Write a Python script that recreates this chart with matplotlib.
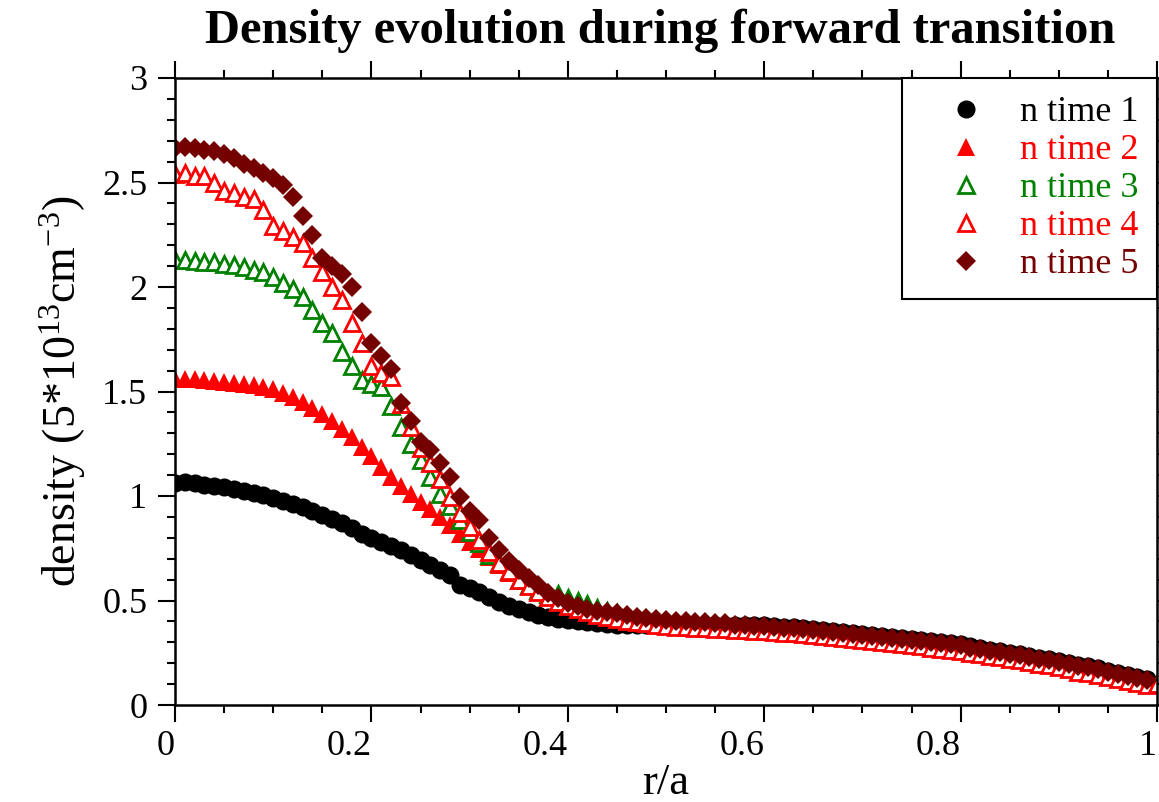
import numpy as np
import matplotlib
matplotlib.use("Agg")
import matplotlib.pyplot as plt
from matplotlib.ticker import MultipleLocator

plt.rcParams['font.family'] = ['Liberation Serif', 'DejaVu Serif']
plt.rcParams['mathtext.fontset'] = 'custom'
plt.rcParams['mathtext.rm'] = 'Liberation Serif'
plt.rcParams['mathtext.default'] = 'regular'

# r/a grid (step 0.01)
r_a = [round(i * 0.01, 2) for i in range(100)]
r_a_long = r_a + [1.0]

x_ticks = [0, 0.2, 0.4, 0.6, 0.8, 1]
x_labels = ['0', '0.2', '0.4', '0.6', '0.8', '1']
y_ticks = [0, 0.5, 1, 1.5, 2, 2.5, 3]
y_labels = ['0', '0.5', '1', '1.5', '2', '2.5', '3']

# n time 1
n_time1 = [
    1.06, 1.065, 1.06, 1.055, 1.05, 1.045, 1.035, 1.025, 1.015, 1.005,
    0.99, 0.975, 0.96, 0.945, 0.93, 0.91, 0.89, 0.87, 0.845, 0.82,
    0.80, 0.78, 0.76, 0.74, 0.72, 0.695, 0.67, 0.645, 0.62, 0.575,
    0.56, 0.54, 0.515, 0.495, 0.475, 0.46, 0.445, 0.43, 0.42, 0.41,
    0.405, 0.40, 0.395, 0.39, 0.388, 0.385, 0.385, 0.385, 0.385, 0.385,
    0.385, 0.385, 0.385, 0.385, 0.385, 0.385, 0.385, 0.385, 0.385, 0.385,
    0.385, 0.38, 0.375, 0.375, 0.37, 0.365, 0.36, 0.355, 0.35, 0.345,
    0.34, 0.335, 0.33, 0.325, 0.32, 0.315, 0.31, 0.305, 0.30, 0.295,
    0.29, 0.28, 0.275, 0.265, 0.26, 0.25, 0.245, 0.235, 0.225, 0.22,
    0.21, 0.20, 0.19, 0.185, 0.175, 0.165, 0.155, 0.145, 0.135, 0.125,
]

# n time 2
n_time2 = [
    1.56, 1.56, 1.56, 1.555, 1.55, 1.545, 1.54, 1.535, 1.53, 1.52,
    1.51, 1.495, 1.475, 1.45, 1.42, 1.39, 1.36, 1.32, 1.28, 1.235,
    1.19, 1.14, 1.09, 1.05, 1.01, 0.97, 0.94, 0.90, 0.86, 0.82,
    0.78, 0.745, 0.71, 0.67, 0.63, 0.60, 0.57, 0.54, 0.515, 0.495,
    0.475, 0.46, 0.445, 0.43, 0.42, 0.41, 0.40, 0.395, 0.39, 0.385,
    0.38, 0.375, 0.375, 0.37, 0.37, 0.365, 0.365, 0.36, 0.36, 0.355,
    0.355, 0.35, 0.345, 0.345, 0.34, 0.335, 0.33, 0.325, 0.32, 0.315,
    0.31, 0.305, 0.30, 0.295, 0.29, 0.285, 0.28, 0.275, 0.27, 0.265,
    0.26, 0.25, 0.245, 0.235, 0.23, 0.22, 0.215, 0.205, 0.195, 0.19,
    0.18, 0.17, 0.16, 0.155, 0.145, 0.135, 0.125, 0.115, 0.105, 0.095,
]

# n time 3
n_time3 = [
    2.13, 2.13, 2.125, 2.12, 2.12, 2.11, 2.105, 2.095, 2.08, 2.07,
    2.05, 2.02, 1.99, 1.95, 1.89, 1.83, 1.78, 1.69, 1.62, 1.555,
    1.535, 1.52, 1.43, 1.33, 1.25, 1.17, 1.09, 1.01, 0.95, 0.885,
    0.83, 0.775, 0.72, 0.68, 0.64, 0.60, 0.575, 0.55, 0.53, 0.53,
    0.51, 0.50, 0.485, 0.465, 0.45, 0.44, 0.425, 0.415, 0.41, 0.40,
    0.395, 0.39, 0.39, 0.385, 0.385, 0.38, 0.38, 0.375, 0.375, 0.37,
    0.37, 0.365, 0.36, 0.36, 0.355, 0.35, 0.345, 0.34, 0.335, 0.33,
    0.325, 0.32, 0.315, 0.31, 0.305, 0.30, 0.295, 0.29, 0.285, 0.28,
    0.275, 0.265, 0.26, 0.25, 0.245, 0.235, 0.23, 0.22, 0.21, 0.205,
    0.195, 0.185, 0.175, 0.17, 0.16, 0.15, 0.14, 0.13, 0.12, 0.11,
]

# n time 4 (one extra point at r/a = 1)
n_time4 = [
    2.54, 2.545, 2.53, 2.53, 2.50, 2.46, 2.45, 2.43, 2.42, 2.37,
    2.29, 2.27, 2.24, 2.21, 2.14, 2.07, 2.00, 1.94, 1.83, 1.73,
    1.62, 1.59, 1.57, 1.44, 1.33, 1.23, 1.16, 1.08, 0.995, 0.92,
    0.85, 0.79, 0.73, 0.68, 0.64, 0.60, 0.57, 0.54, 0.515, 0.495,
    0.475, 0.46, 0.445, 0.43, 0.42, 0.41, 0.40, 0.395, 0.39, 0.385,
    0.38, 0.375, 0.375, 0.37, 0.37, 0.365, 0.365, 0.36, 0.36, 0.355,
    0.355, 0.35, 0.345, 0.345, 0.34, 0.335, 0.33, 0.325, 0.32, 0.315,
    0.31, 0.305, 0.30, 0.295, 0.29, 0.285, 0.28, 0.275, 0.27, 0.265,
    0.26, 0.25, 0.245, 0.235, 0.23, 0.22, 0.215, 0.205, 0.195, 0.19,
    0.18, 0.17, 0.16, 0.155, 0.145, 0.135, 0.125, 0.115, 0.105, 0.095,
    0.10,
]

# n time 5
n_time5 = [
    2.665, 2.67, 2.665, 2.655, 2.65, 2.635, 2.615, 2.59, 2.57, 2.545,
    2.52, 2.49, 2.43, 2.34, 2.25, 2.14, 2.10, 2.06, 2.00, 1.88,
    1.73, 1.67, 1.61, 1.445, 1.36, 1.26, 1.22, 1.16, 1.09, 0.995,
    0.93, 0.885, 0.80, 0.74, 0.69, 0.645, 0.61, 0.575, 0.535, 0.51,
    0.49, 0.475, 0.46, 0.45, 0.445, 0.44, 0.43, 0.42, 0.415, 0.41,
    0.405, 0.40, 0.40, 0.395, 0.395, 0.39, 0.39, 0.385, 0.385, 0.38,
    0.38, 0.375, 0.37, 0.37, 0.365, 0.36, 0.355, 0.35, 0.345, 0.34,
    0.335, 0.33, 0.325, 0.32, 0.315, 0.31, 0.305, 0.30, 0.295, 0.29,
    0.285, 0.275, 0.27, 0.26, 0.255, 0.245, 0.24, 0.23, 0.22, 0.215,
    0.205, 0.195, 0.185, 0.18, 0.17, 0.16, 0.15, 0.14, 0.13, 0.12,
]

RED = '#ff0000'
GREEN = '#008000'
DARKRED = '#750000'

fig = plt.figure(figsize=(11.59, 8.02), dpi=100)
ax = fig.add_axes([175 / 1159, 1 - 705 / 802, 982 / 1159, 627 / 802])

h1, = ax.plot(r_a, n_time1, 'o', color='black', ms=13, mew=0, label='n time 1')
h2, = ax.plot(r_a, n_time2, '^', color=RED, ms=13, mew=0, label='n time 2')
h3, = ax.plot(r_a, n_time3, '^', color=GREEN, mfc='white', ms=12, mew=2, label='n time 3')
h4, = ax.plot(r_a_long, n_time4, '^', color=RED, mfc='white', ms=12, mew=2, label='n time 4')
h5, = ax.plot(r_a, n_time5, 'D', color=DARKRED, ms=10.5, mew=0, label='n time 5')

ax.set_xlim(0, 1)
ax.set_ylim(0, 3)
ax.set_xticks(x_ticks, x_labels, ha='right')
ax.set_yticks(y_ticks, y_labels)
ax.xaxis.set_minor_locator(MultipleLocator(0.05))
ax.yaxis.set_minor_locator(MultipleLocator(0.1))

ax.tick_params(which='both', direction='out', top=True, right=True, width=1.5,
               labelsize=26)
ax.tick_params(which='major', length=12)
ax.tick_params(which='minor', length=6)
ax.tick_params(axis='x', which='major', pad=6)
ax.tick_params(axis='y', which='major', pad=8)
for s in ax.spines.values():
    s.set_linewidth(1.8)

ax.set_xlabel('r/a', fontsize=32, labelpad=0)
ax.set_ylabel('density (5*10$^{13}$cm$^{-3}$)', fontsize=33, labelpad=10)

fig.text(660 / 1159, 1 - 43 / 802, 'Density evolution during forward transition',
         fontsize=35, fontweight='bold', ha='center', va='baseline')

leg = ax.legend(handles=[h1, h2, h3, h4, h5], loc='upper right',
                bbox_to_anchor=(1, 1), borderaxespad=0, fontsize=26,
                fancybox=False, framealpha=1, edgecolor='black',
                borderpad=0.5, handlelength=2.55, handletextpad=0.22,
                labelspacing=0.13)
leg.get_frame().set_linewidth(1.5)
for txt, c in zip(leg.get_texts(), ['black', RED, GREEN, RED, DARKRED]):
    txt.set_color(c)

fig.savefig('out.png', dpi=100)
